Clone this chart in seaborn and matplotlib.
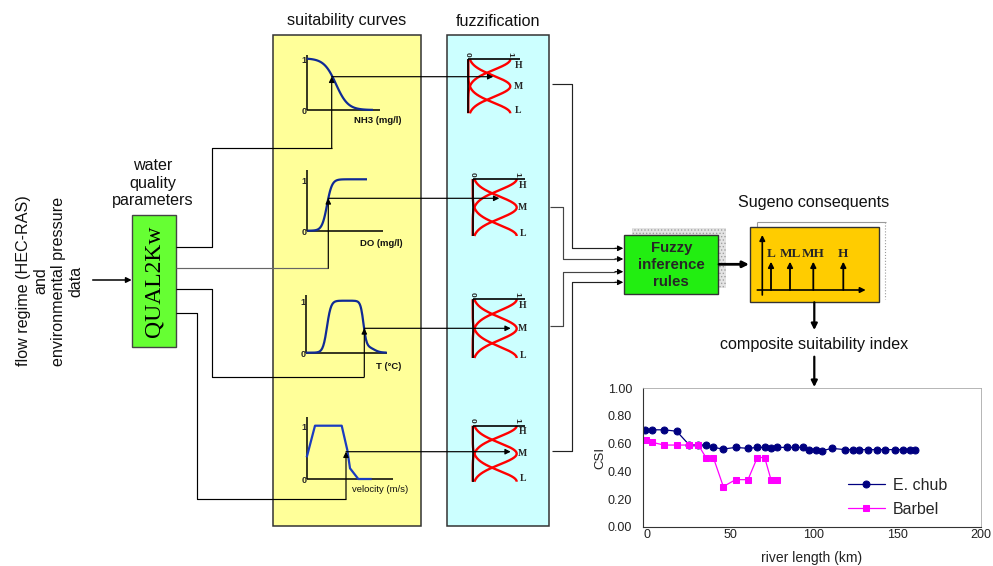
import numpy as np
import pandas as pd
import matplotlib
matplotlib.use("Agg")
import matplotlib.pyplot as plt
import seaborn as sns
from matplotlib.patches import Rectangle

sns.set_style("white")
plt.rcParams['font.family'] = ['Liberation Sans', 'DejaVu Sans']
plt.rcParams['hatch.linewidth'] = 0.6

# ---------------- CSI chart data ----------------
echub_km = [-1.4, 2.8, 10, 17.6, 25.2, 30.6, 35.2, 39.6, 45.6, 53, 60.4, 66, 70.4, 74.2,
            78, 84, 88.8, 93.2, 97, 101, 104.8, 110.8, 118.4, 123.6, 127.2, 132.4, 138,
            142.6, 148.6, 153.6, 157.6, 160.6]
echub_csi = [0.70, 0.70, 0.70, 0.69, 0.59, 0.59, 0.59, 0.573, 0.561, 0.573, 0.566, 0.573,
             0.573, 0.566, 0.573, 0.573, 0.573, 0.573, 0.557, 0.557, 0.549, 0.566, 0.557,
             0.557, 0.557, 0.557, 0.557, 0.557, 0.557, 0.557, 0.557, 0.557]
barbel_km = [-0.8, 2.8, 10, 17.6, 25.2, 30.6, 35.2, 39.6, 45.6, 53, 60.4, 66, 70.4, 74.2, 78]
barbel_csi = [0.63, 0.61, 0.59, 0.59, 0.59, 0.59, 0.50, 0.50, 0.29, 0.34, 0.34, 0.50, 0.50,
              0.34, 0.34]
series_names = ["E. chub", "Barbel"]
csi_yticks = [0.0, 0.2, 0.4, 0.6, 0.8, 1.0]
csi_xticks = [0, 50, 100, 150, 200]

# ---------------- diagram texts ----------------
suit_labels = ["NH3 (mg/l)", "DO (mg/l)", "T (°C)", "velocity (m/s)"]
fuzzy_sets = ["H", "M", "L"]
sugeno_labels = ["L", "ML", "MH", "H"]

W, H = 993, 566
fig = plt.figure(figsize=(W / 100, H / 100), dpi=100)
ax = fig.add_axes([0, 0, 1, 1])
ax.set_xlim(0, W)
ax.set_ylim(H, 0)
ax.axis('off')

SANS = 'Liberation Sans'
SERIF = 'Liberation Serif'
FS = 11.6


def line(xs, ys, color='#222222', lw=0.85, **kw):
    ax.plot(xs, ys, color=color, lw=lw, solid_capstyle='butt', **kw)


def arrow(p0, p1, color='black', lw=0.85, ms=8):
    ax.annotate('', xy=p1, xytext=p0,
                arrowprops=dict(arrowstyle='-|>', color=color, lw=lw,
                                mutation_scale=ms, shrinkA=0, shrinkB=0))


# ---- panels ----
ax.add_patch(Rectangle((273, 35), 148, 491, facecolor='#FFFF99', edgecolor='#333333', lw=1.1, zorder=0))
ax.add_patch(Rectangle((447, 35), 102, 491, facecolor='#CCFFFF', edgecolor='#333333', lw=1.1, zorder=0))
ax.text(347, 21, "suitability curves", ha='center', va='center', fontsize=FS, color='#111111')
ax.text(498, 21, "fuzzification", ha='center', va='center', fontsize=FS, color='#111111')

# ---- left text and QUAL2Kw ----
ax.text(50, 281, "flow regime (HEC-RAS)\nand\nenvironmental pressure\ndata", rotation=90,
        ha='center', va='center', multialignment='center', fontsize=FS, linespacing=1.2,
        color='#111111')
arrow((92.7, 280), (131.7, 280), lw=1.1)
ax.add_patch(Rectangle((132.3, 215), 43.4, 131.7, facecolor='#66FF33', edgecolor='#444444', lw=1.0, zorder=2))
ax.text(154, 281, "QUAL2Kw", rotation=90, ha='center', va='center', fontsize=17,
        family=SERIF, color='black', zorder=3)
ax.text(153, 166, "water", ha='center', va='center', fontsize=FS, color='#111111')
ax.text(153, 183.3, "quality", ha='center', va='center', fontsize=FS, color='#111111')
ax.text(153, 200.7, "parameters", ha='center', va='center', fontsize=FS, color='#111111')

# ---- suitability mini plots ----
minis = [  # x0, ybase, ytop, y1, xend, label pos
    (306.7, 110.0, 55.0, 58.3, 380.0, (378, 120.7)),
    (307.3, 230.7, 170.0, 179.3, 383.0, (381, 243.3)),
    (306.0, 352.7, 295.0, 300.7, 386.7, (389, 366.7)),
    (306.7, 479.0, 416.7, 425.7, 393.3, (380, 490.0)),
]
for i, (x0, yb, yt, y1, xe, lp) in enumerate(minis):
    line([x0, x0], [yb, yt], color='black', lw=1.1)
    line([x0, xe], [yb, yb], color='black', lw=1.1)
    ax.text(x0 - 3, y1 + 2, "1", ha='center', va='center', fontsize=6.5, fontweight='bold')
    ax.text(x0 - 3, yb + 1.5, "0", ha='center', va='center', fontsize=6.5, fontweight='bold')
    ax.text(lp[0], lp[1], suit_labels[i], ha='center', va='center', fontsize=6.8,
            fontweight='bold' if i < 3 else 'normal', color='#111111')


def L(x, c, s):
    return 1.0 / (1.0 + np.exp((x - c) / s))


blue = '#0F2A95'
# NH3: decreasing
x0, yb, yt, y1, xe, _ = minis[0]
xs = np.linspace(306.7, 373, 120)
v = L(xs, 336, 6)
line(xs, yb - v * (yb - y1), color=blue, lw=1.6)
# DO: increasing
x0, yb, yt, y1, xe, _ = minis[1]
xs = np.linspace(307.3, 367, 120)
v = 1 - L(xs, 327, 2.5)
line(xs, yb - v * (yb - y1), color=blue, lw=1.6)
# T: bell
x0, yb, yt, y1, xe, _ = minis[2]
xs = np.linspace(306, 386.7, 160)
v = (1 - L(xs, 327, 2)) * (0.88 * L(xs, 363.5, 1.5) + 0.12 * L(xs, 374, 3))
line(xs, yb - v * (yb - y1), color=blue, lw=1.6)
# velocity: trapezoid
vel_x = [306.7, 315, 341.7, 347.3, 350, 358.3, 371.7]
vel_y = [457.3, 425.7, 425.7, 450, 468.3, 479, 479]
line(vel_x, vel_y, color='#1A3CC0', lw=1.6)

# ---- inputs from QUAL2Kw to curves, then to fuzzification ----
line([175.7, 211.7, 211.7, 331.7], [246.7, 246.7, 148.3, 148.3], color='black')
arrow((331.7, 148.3), (331.7, 76.7))
arrow((331.7, 76.7), (493.3, 76.7))

line([175.7, 328.3], [268.3, 268.3], color='#666666')
arrow((328.3, 268.3), (328.3, 198.3))
arrow((328.3, 198.3), (499.3, 198.3))

line([175.7, 211.7, 211.7, 364.3], [289.3, 289.3, 376.7, 376.7], color='black')
arrow((364.3, 376.7), (364.3, 328.3))
arrow((364.3, 328.3), (510.7, 328.3))

line([175.7, 196.7, 196.7, 346], [312.7, 312.7, 499, 499], color='black')
arrow((346, 499), (346, 451.7))
arrow((346, 451.7), (510.7, 451.7))

# ---- fuzzification icons ----
icons = [(468.3, 59.3, 113.3, 42), (472.7, 179, 236, 44), (472.7, 299.3, 358, 44), (472.7, 425.7, 481.7, 44)]
for x0, yt, yb, w in icons:
    d = (yb - yt) / 2
    s = 0.39 * d
    ys = np.linspace(yt, yb, 150)
    for c in (yt, yt + d, yb):
        line(x0 + w * np.exp(-(ys - c) ** 2 / (2 * s ** 2)), ys, color='#FF0000', lw=1.7)
    line([x0, x0], [yt, yb], color='black', lw=1.2)
    line([x0, x0 + 52], [yt, yt], color='black', lw=1.2)
    ax.text(x0 - 1, yt - 5, "0", rotation=-90, ha='center', va='center', fontsize=6, fontweight='bold')
    ax.text(x0 + w, yt - 5, "1", rotation=-90, ha='center', va='center', fontsize=6, fontweight='bold')
    for lab, yy in zip(fuzzy_sets, (yt + 6, yt + d, yb - 3)):
        ax.text(x0 + 50, yy, lab, ha='center', va='center', fontsize=7, fontweight='bold', family=SERIF)

# ---- fuzzification to inference ----
line([551.7, 572.3, 572.3, 615], [84, 84, 248.3, 248.3], color='#222222')
arrow((615, 248.3), (623.3, 248.3))
line([550, 562.7, 562.7, 615], [206.7, 206.7, 259, 259], color='#444444')
arrow((615, 259), (623.3, 259))
line([550, 562.7, 562.7, 615], [326, 326, 271.7, 271.7], color='#444444')
arrow((615, 271.7), (623.3, 271.7))
line([551.7, 572.3, 572.3, 615], [451, 451, 282.3, 282.3], color='#222222')
arrow((615, 282.3), (623.3, 282.3))

# fuzzy inference box with textured shadow
ax.add_patch(Rectangle((631.7, 228.3), 94, 60, facecolor='#E4E4E4', edgecolor='#A0A0A0',
                       hatch='.....', lw=0, zorder=1))
ax.add_patch(Rectangle((624.3, 235), 94, 59, facecolor='#22EE11', edgecolor='#333333', lw=1.0, zorder=2))
for txt, yy in zip(["Fuzzy", "inference", "rules"], (248, 265, 281.7)):
    ax.text(671.3, yy, txt, ha='center', va='center', fontsize=10.8, fontweight='bold', zorder=3)

arrow((719, 264.3), (749, 264.3), lw=2.0, ms=9)

# Sugeno box
line([757, 885.7], [221.7, 221.7], color='#999999', lw=0.8)
line([757, 757], [221.7, 227.3], color='#999999', lw=0.8)
line([884.5, 884.5], [222, 299], color='#999999', lw=0.8, ls=':')
ax.add_patch(Rectangle((750, 227.3), 129, 75, facecolor='#FFCC00', edgecolor='#333333', lw=1.0, zorder=2))
ax.text(813.3, 203, "Sugeno consequents", ha='center', va='center', fontsize=FS, color='#111111')
ax.annotate('', xy=(762.3, 235), xytext=(762.3, 295),
            arrowprops=dict(arrowstyle='-|>', color='black', lw=1.2, mutation_scale=8, shrinkA=0, shrinkB=0), zorder=4)
ax.annotate('', xy=(865.7, 290), xytext=(757.3, 290),
            arrowprops=dict(arrowstyle='-|>', color='black', lw=1.2, mutation_scale=8, shrinkA=0, shrinkB=0), zorder=4)
for lab, xx in zip(sugeno_labels, (771, 790, 813.3, 843.3)):
    ax.annotate('', xy=(xx, 261.7), xytext=(xx, 290),
                arrowprops=dict(arrowstyle='-|>', color='black', lw=1.3, mutation_scale=8, shrinkA=0, shrinkB=0), zorder=4)
    ax.text(xx, 254, lab, ha='center', va='center', fontsize=9.5, fontweight='bold', family=SERIF, zorder=4)

arrow((814.3, 302.3), (814.3, 330), lw=1.6, ms=9)
ax.text(814, 344, "composite suitability index", ha='center', va='center', fontsize=FS, color='#111111')
arrow((814.3, 356.7), (814.3, 387), lw=1.6, ms=9)

# ---------------- CSI chart (seaborn) ----------------
l, b = 643.3, 526.7
r, t = 980.7, 388.3
ax2 = fig.add_axes([l / W, 1 - b / H, (r - l) / W, (b - t) / H])
ax2.set_facecolor('none')
df_e = pd.DataFrame({'km': echub_km, 'CSI': echub_csi})
df_b = pd.DataFrame({'km': barbel_km, 'CSI': barbel_csi})
sns.lineplot(data=df_e, x='km', y='CSI', ax=ax2, color='#000080', marker='o', markersize=5.0,
             markeredgecolor='#000080', lw=0.9, estimator=None, label=series_names[0])
sns.lineplot(data=df_b, x='km', y='CSI', ax=ax2, color='#FF00FF', marker='s', markersize=5.0,
             markeredgecolor='#FF00FF', lw=0.9, estimator=None, label=series_names[1])
ax2.set_xlim(-2.4, 200)
ax2.set_ylim(0, 1)
ax2.set_yticks(csi_yticks)
ax2.set_yticklabels([f"{v:.2f}" for v in csi_yticks])
ax2.set_xticks(csi_xticks)
ax2.tick_params(axis='both', labelsize=9, colors='#222222', width=0.7, direction='out')
ax2.tick_params(axis='x', pad=0, length=2)
ax2.tick_params(axis='y', pad=5, length=3)
ax2.set_xlabel("river length (km)", fontsize=10, color='#222222', labelpad=6.5)
ax2.set_ylabel("CSI", fontsize=9.5, color='#222222', labelpad=1)
for sp in ('left', 'bottom'):
    ax2.spines[sp].set_color('#333333')
    ax2.spines[sp].set_linewidth(0.8)
for sp in ('top', 'right'):
    ax2.spines[sp].set_color('#AAAAAA')
    ax2.spines[sp].set_linewidth(0.6)
ax2.legend(loc='upper left', bbox_to_anchor=(848 / W, 1 - 478 / H), bbox_transform=fig.transFigure,
           frameon=False, fontsize=11.5, handlelength=2.3, handletextpad=0.5, labelspacing=0.55,
           borderpad=0, borderaxespad=0)

fig.savefig("out.png", dpi=100)
